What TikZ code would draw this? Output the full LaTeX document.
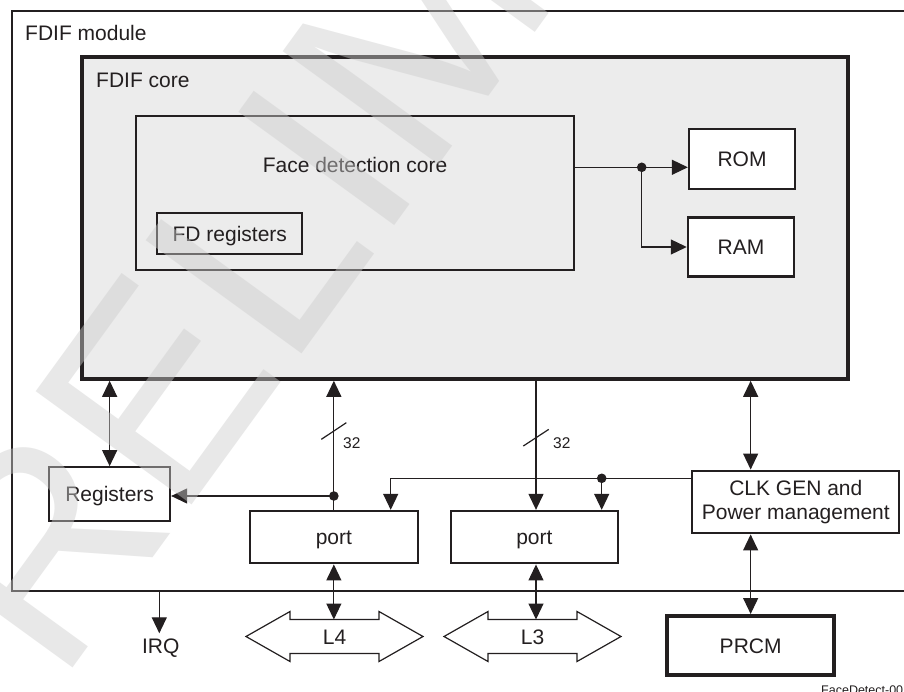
\documentclass[tikz,border=0pt]{standalone}
\usepackage{fontspec}
\setmainfont{Liberation Sans}
\usetikzlibrary{arrows.meta}
\definecolor{ink}{HTML}{231F20}
\definecolor{corefill}{HTML}{ECECEC}
\newcommand\fsmain{\fontsize{21}{24.5}\selectfont}
\newcommand\fssmall{\fontsize{15.5}{18}\selectfont}
\newcommand\fstiny{\fontsize{12.5}{14}\selectfont}
\begin{document}
\begin{tikzpicture}[x=1pt,y=-1pt,
  >={Triangle[length=16pt,width=15pt]},
  conn/.style={draw=ink, line width=1.2pt},
  boxbase/.style={draw=ink, line width=2.3pt, fill=white, inner sep=0pt, text=ink,
    font=\fsmain},
  box/.style={boxbase, text height=15pt, text depth=0pt},
  lbl/.style={inner sep=0pt, text=ink, font=\fsmain},
  small/.style={inner sep=0pt, text=ink, font=\fssmall, text height=11.2pt, text depth=0pt},
  bus/.style={draw=ink, fill=white, line width=1.2pt, line join=miter},
  wm/.style={anchor=base west, rotate=54, inner sep=0pt, text=black!20,
    text opacity=0.45, font=\fontsize{280}{280}\selectfont},
  dotr/.style={fill=ink}
]
\useasboundingbox (0,0) rectangle (904,692);
\clip (0,0) rectangle (904,692);
\fill[white] (0,0) rectangle (904,692);

% module and core
\node[draw=ink, line width=2.3pt, fill=white, inner sep=0pt,
  minimum width=903pt, minimum height=580pt] (module) at (463.5,301) {};
\node[lbl, anchor=base west] (modlabel) at (25,40.7) {FDIF module};

\node[draw=ink, line width=3.6pt, fill=corefill, inner sep=0pt,
  minimum width=766.3pt, minimum height=321.7pt] (core) at (464.85,218.15) {};
\node[lbl, anchor=base west] (corelabel) at (96,87.3) {FDIF core};

\node[draw=ink, line width=2.3pt, inner sep=0pt,
  minimum width=438.3pt, minimum height=154.3pt] (fdc) at (354.85,192.85) {};
\node[lbl, anchor=base] (fdclabel) at (355,173) {Face detection core};
\node[box, fill=none, line width=2.1pt, minimum width=145pt, minimum height=40.7pt] (fdreg) at (229.8,233.65) {FD registers};

\node[box, minimum width=106pt, minimum height=60pt] (rom) at (742,159) {ROM};
\node[box, line width=2.5pt, minimum width=106pt, minimum height=59.4pt] (ram) at (741,247) {RAM};

% lower blocks
\node[box, minimum width=120.7pt, minimum height=53.4pt] (regs) at (109.65,494) {Registers};
\node[box, minimum width=167.7pt, minimum height=52.3pt] (port1) at (333.85,537.15) {port};
\node[box, minimum width=166.7pt, minimum height=52.3pt] (port2) at (534.35,537.15) {port};
\node[boxbase, align=center, minimum width=207pt, minimum height=62.6pt] (clk) at (795.8,502) {CLK GEN and\\Power management};
\node[box, line width=4pt, minimum width=166.7pt, minimum height=59pt] (prcm) at (750.65,645.5) {PRCM};

% ROM / RAM connections
\coordinate (j1) at (641.7,167.3);
\draw[conn] (fdc.east |- j1) -- (j1);
\draw[conn,->] (j1) -- (rom.west |- j1);
\draw[conn,->] (j1) |- (ram.west);
\fill[dotr] (j1) circle (4.8);

% registers <-> core
\draw[conn,<->] (regs.north) -- (regs.north |- core.south);

% port1 bus to core
\draw[conn,->] (port1.north) -- (port1.north |- core.south);
\coordinate (s1) at (333.85,431);
\draw[conn] ([shift={(-12.5,8.3)}]s1) -- ([shift={(12.5,-8.3)}]s1);
\node[small, anchor=west] (w1) at (343,442.5) {32};
\coordinate (j2) at (333.85,496);
\draw[conn,->] (j2) -- (regs.east |- j2);
\fill[dotr] (j2) circle (4.8);

% core to port2
\coordinate (b2) at (536,379);
\draw[conn,->] (b2) -- (b2 |- port2.north);
\coordinate (s2) at (536,437.7);
\draw[conn] ([shift={(-12.7,8.3)}]s2) -- ([shift={(12.7,-8.3)}]s2);
\node[small, anchor=west] (w2) at (553,442.5) {32};

% clock distribution
\coordinate (j3) at (601.7,478.3);
\coordinate (k1) at (390.7,478.3);
\draw[conn] (clk.west |- j3) -- (k1);
\draw[conn,->] (k1) -- (k1 |- port1.north);
\draw[conn,->] (j3) -- (j3 |- port2.north);
\fill[dotr] (j3) circle (4.8);

% clk gen arrows
\draw[conn,<->] (prcm.north |- clk.north) -- (prcm.north |- core.south);
\draw[conn,<->] (prcm.north |- clk.south) -- (prcm.north);

% buses L4 / L3
\foreach \n/\cx/\t in {l4/334.5/L4, l3/532.5/L3} {
  \draw[bus] (\cx-88.5,636.5) -- (\cx-44.5,611.5) -- (\cx-44.5,619.5) -- (\cx+44.5,619.5)
    -- (\cx+44.5,611.5) -- (\cx+88.5,636.5) -- (\cx+44.5,661.5) -- (\cx+44.5,653.5)
    -- (\cx-44.5,653.5) -- (\cx-44.5,661.5) -- cycle;
  \node[lbl, text height=15pt, text depth=0pt] (\n) at (\cx,636.5) {\t};
}
\coordinate (l4top) at (333.85,619.5);
\coordinate (l3top) at (536,619.5);
\draw[conn,<->] (port1.south) -- (l4top);
\draw[conn,<->] (l3top |- port2.south) -- (l3top);

% IRQ
\node[lbl, text height=15.2pt, text depth=0pt, inner ysep=5.2pt] (irq) at (160.7,646.3) {IRQ};
\coordinate (irqsrc) at (159.3,591);
\draw[conn,->] (irqsrc) -- (irqsrc |- irq.north);

% figure id
\node[inner sep=0pt, anchor=base west, text=ink, font=\fstiny] (figid) at (821,694.5) {FaceDetect-00};

% watermark
\node[wm] (watermark) at (-50,838) {PRELIMINARY};
\end{tikzpicture}
\end{document}
